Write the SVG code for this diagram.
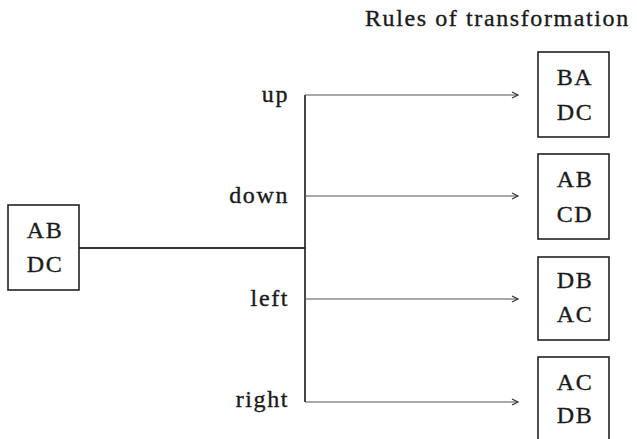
<svg xmlns="http://www.w3.org/2000/svg" width="637" height="439" viewBox="0 0 637 439">
<defs>
<marker id="ah" markerWidth="10" markerHeight="10" refX="8" refY="4" orient="auto" markerUnits="userSpaceOnUse">
<path d="M2,1 L8,4 L2,7" fill="none" stroke="#333" stroke-width="1.2"/>
</marker>
<style>
text{font-family:"Liberation Serif","Times New Roman",serif;font-size:24px;fill:#1a1a1a;stroke:#1a1a1a;stroke-width:0.35;letter-spacing:1.6px}
.box{fill:#fff;stroke:#222;stroke-width:1.6}
.c{text-anchor:middle}
.lbl{text-anchor:end}
.main{stroke:#333;stroke-width:1.8;fill:none}
.arr{stroke:#555;stroke-width:1.1;fill:none;marker-end:url(#ah)}
</style>
</defs>
<rect width="637" height="439" fill="#fff"/>
<text x="365" y="26">Rules of transformation</text>
<g id="connectors">
<line class="main" x1="79" y1="248" x2="306" y2="248"/>
<line class="main" x1="305" y1="95" x2="305" y2="402"/>
<line class="arr" x1="305" y1="95" x2="518" y2="95"/>
<line class="arr" x1="305" y1="196" x2="518" y2="196"/>
<line class="arr" x1="305" y1="299" x2="518" y2="299"/>
<line class="arr" x1="305" y1="402" x2="518" y2="402"/>
</g>
<g id="labels">
<text class="lbl" x="289" y="102">up</text>
<text class="lbl" x="289" y="203">down</text>
<text class="lbl" x="289" y="306">left</text>
<text class="lbl" x="289" y="407">right</text>
</g>
<g id="start">
<rect class="box" x="8" y="205" width="71" height="85"/>
<text class="c" x="45" y="238">AB</text>
<text class="c" x="45" y="272">DC</text>
</g>
<g id="up-result">
<rect class="box" x="538" y="52" width="71" height="85"/>
<text class="c" x="575" y="85">BA</text>
<text class="c" x="575" y="120">DC</text>
</g>
<g id="down-result">
<rect class="box" x="538" y="154" width="71" height="85"/>
<text class="c" x="575" y="187">AB</text>
<text class="c" x="575" y="222">CD</text>
</g>
<g id="left-result">
<rect class="box" x="538" y="257" width="71" height="83"/>
<text class="c" x="575" y="288">DB</text>
<text class="c" x="575" y="322">AC</text>
</g>
<g id="right-result">
<rect class="box" x="538" y="357" width="71" height="84"/>
<text class="c" x="575" y="390">AC</text>
<text class="c" x="575" y="423">DB</text>
</g>
</svg>
